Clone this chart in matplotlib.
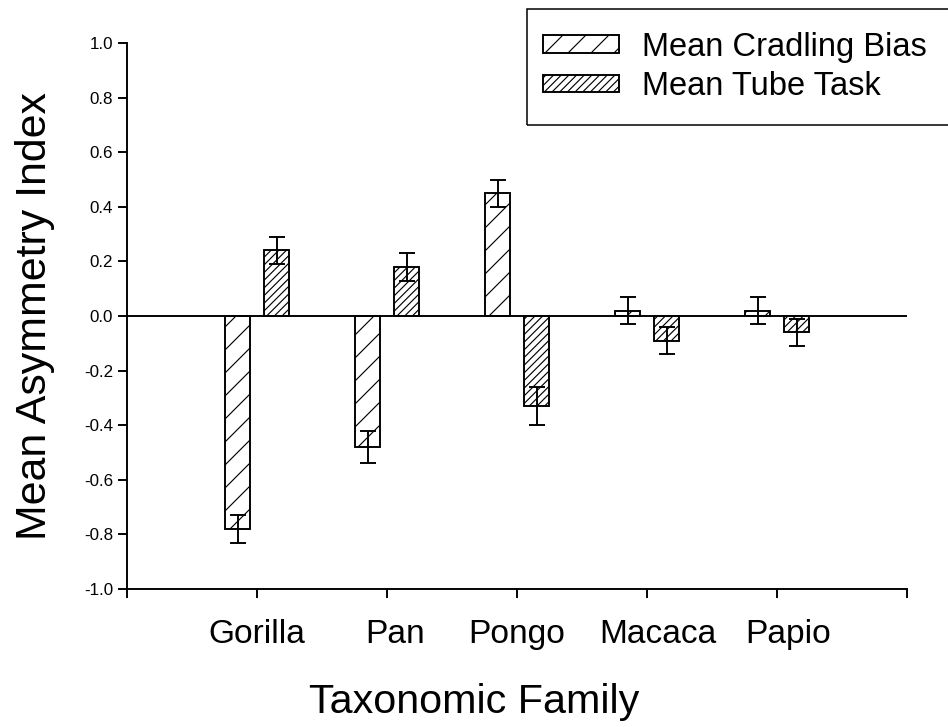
import numpy as np
import matplotlib
matplotlib.use("Agg")
import matplotlib.pyplot as plt
import matplotlib.transforms as mtransforms
from matplotlib.patches import Rectangle

plt.rcParams['font.family'] = ['Liberation Sans', 'DejaVu Sans']
plt.rcParams['axes.unicode_minus'] = False
plt.rcParams['hatch.linewidth'] = 0.6

# data
families = ["Gorilla", "Pan", "Pongo", "Macaca", "Papio"]
cradling_mean = [-0.78, -0.48, 0.45, 0.02, 0.02]
cradling_err = [0.05, 0.06, 0.05, 0.05, 0.05]
tube_mean = [0.24, 0.18, -0.33, -0.09, -0.06]
tube_err = [0.05, 0.05, 0.07, 0.05, 0.05]
y_ticks = [-1.0, -0.8, -0.6, -0.4, -0.2, 0.0, 0.2, 0.4, 0.6, 0.8, 1.0]
# the original tool placed some category labels a little right of centre (pixels)
label_nudge = [0, 8, 0, 11, 11]

DPI = 138
fig = plt.figure(figsize=(948 / DPI, 727 / DPI), dpi=DPI)
ax = fig.add_axes([127 / 948, 1 - 589 / 727, 780 / 948, 546 / 727])

x = np.arange(1, len(families) + 1)
width = 0.185
off = 0.15

ax.bar(x - off, cradling_mean, width, color='white', edgecolor='black',
       linewidth=1.0, hatch='//', label='Mean Cradling Bias', zorder=2)
ax.bar(x + off, tube_mean, width, color='white', edgecolor='black',
       linewidth=1.0, hatch='//////', label='Mean Tube Task', zorder=2)
ax.errorbar(x - off, cradling_mean, yerr=cradling_err, fmt='none', ecolor='black',
            elinewidth=1.0, capsize=4.4, capthick=1.0, zorder=3)
ax.errorbar(x + off, tube_mean, yerr=tube_err, fmt='none', ecolor='black',
            elinewidth=1.0, capsize=4.4, capthick=1.0, zorder=3)
ax.axhline(0, color='black', linewidth=1.0, zorder=4)

ax.set_xlim(0, len(families) + 1)
ax.set_ylim(-1.0, 1.0)
ax.set_yticks(y_ticks)
ax.set_yticklabels([f"{v:.1f}" for v in y_ticks], fontsize=8.9)
ax.set_xticks(np.arange(0, len(families) + 2))
ax.set_xticklabels([''] + families + [''], fontsize=17.5)
ax.tick_params(axis='both', which='major', direction='out', length=4.7,
               width=1.0)
ax.tick_params(axis='y', pad=2.6)
ax.tick_params(axis='x', pad=11)

for lab, dx in zip(ax.get_xticklabels()[1:-1], label_nudge):
    lab.set_transform(lab.get_transform() +
                      mtransforms.ScaledTranslation(dx / DPI, 0, fig.dpi_scale_trans))

for s in ['top', 'right']:
    ax.spines[s].set_visible(False)
for s in ['left', 'bottom']:
    ax.spines[s].set_linewidth(1.0)

ax.set_ylabel("Mean Asymmetry Index", fontsize=22.4, labelpad=15)
fig.text(474 / 948, 1 - 713 / 727, "Taxonomic Family", fontsize=21.5,
         ha='center', va='baseline')

leg = fig.legend(loc='upper left', bbox_to_anchor=(520 / 948, 1 - 9 / 727),
                 borderaxespad=0, fontsize=17, frameon=False,
                 handlelength=2.35, handleheight=0.45, handletextpad=0.7,
                 labelspacing=0.25, borderpad=0.7)
fig.canvas.draw()
# draw the box by hand: it starts a bit closer to the handles and runs off the right edge
bb = leg.get_window_extent()
fig.patches.append(Rectangle((bb.x0 + 7, bb.y0), fig.bbox.width - bb.x0 + 20, bb.height,
                             transform=None, fill=False, edgecolor='black',
                             linewidth=0.8, figure=fig))

fig.savefig("out.png", dpi=DPI)
